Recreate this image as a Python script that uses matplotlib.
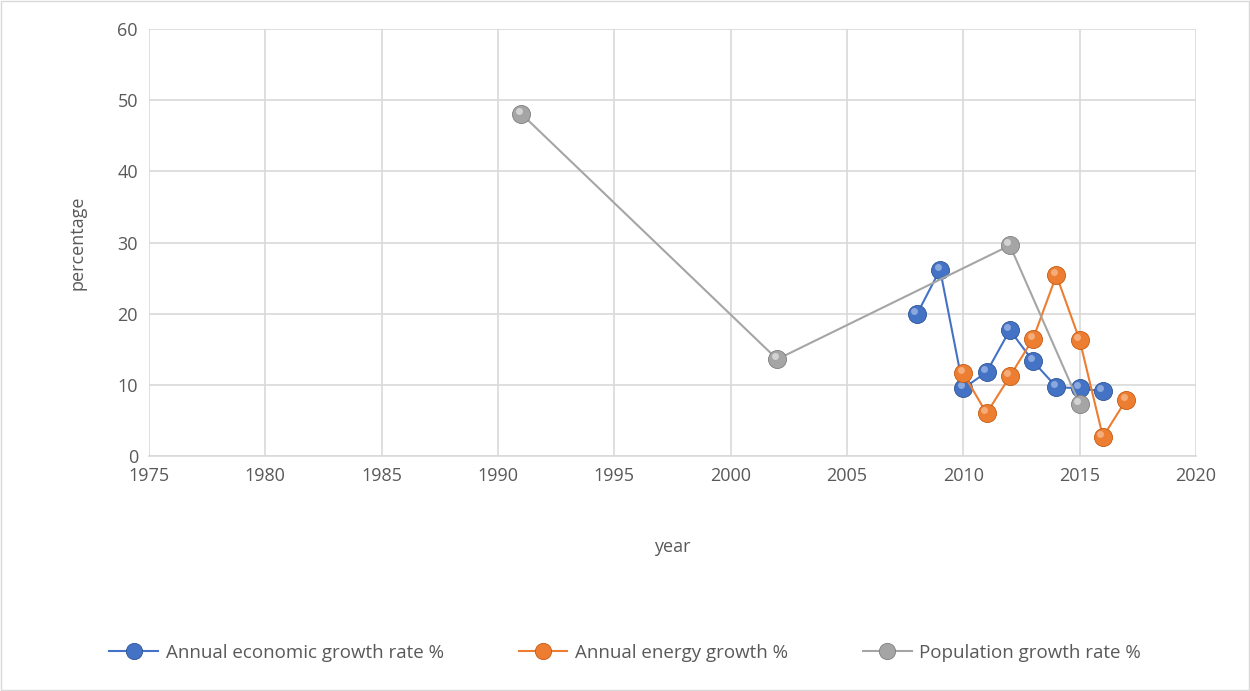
import matplotlib.pyplot as plt
import matplotlib.transforms as mtransforms
import numpy as np

plt.rcParams['font.family'] = ['Open Sans', 'DejaVu Sans']

# data
econ_years = [2008, 2009, 2010, 2011, 2012, 2013, 2014, 2015, 2016]
econ_vals = [19.9, 26.2, 9.5, 11.8, 17.7, 13.3, 9.7, 9.5, 9.1]

energy_years = [2010, 2011, 2012, 2013, 2014, 2015, 2016, 2017]
energy_vals = [11.6, 6.0, 11.2, 16.5, 25.4, 16.3, 2.7, 7.9]

pop_years = [1991, 2002, 2012, 2015]
pop_vals = [48.1, 13.6, 29.6, 7.3]

series = [
    ("Annual economic growth rate %", econ_years, econ_vals, '#4472C4', '#2F5597', '#A9C0EA'),
    ("Annual energy growth %", energy_years, energy_vals, '#ED7D31', '#C55A11', '#F8C29A'),
    ("Population growth rate %", pop_years, pop_vals, '#A5A5A5', '#7F7F7F', '#E6E6E6'),
]

fig = plt.figure(figsize=(12.5, 6.91), dpi=100)
ax = fig.add_axes([0.1192, 0.3400, 0.8376, 0.6180])

txt = '#595959'
for i, (name, xs, ys, c, edge, hi) in enumerate(series):
    ax.plot(xs, ys, color=c, lw=1.5, marker='o', markersize=13,
            markerfacecolor=c, markeredgecolor=edge, markeredgewidth=0.6,
            label=name, zorder=3 + i)
    # small highlight toward the upper left of each ball
    shift = mtransforms.offset_copy(ax.transData, fig=fig, x=-1.8, y=2.2, units='points')
    ax.plot(xs, ys, ls='none', marker='o', markersize=5, transform=shift,
            markerfacecolor=hi, markeredgecolor='none', alpha=0.7, zorder=3 + i)

ax.set_xlim(1975, 2020)
ax.set_ylim(0, 60)
ax.set_xticks(np.arange(1975, 2021, 5))
ax.set_yticks(np.arange(0, 61, 10))
ax.grid(True, color='#D9D9D9', lw=1.2)
ax.set_axisbelow(True)
for s in ['top', 'right', 'left']:
    ax.spines[s].set_visible(False)
ax.spines['bottom'].set_color('#D9D9D9')
ax.spines['bottom'].set_linewidth(1.2)
ax.tick_params(length=0, labelsize=13, colors=txt, pad=8)

ax.set_xlabel('year', fontsize=13, color=txt, labelpad=38)
ax.set_ylabel('percentage', fontsize=13, color=txt, labelpad=22)

handles, labels = ax.get_legend_handles_labels()
fig.legend(handles[:3], labels[:3], loc='center', bbox_to_anchor=(0.5, 0.055),
           ncol=3, frameon=False, fontsize=13.5, labelcolor=txt,
           handlelength=2.6, handletextpad=0.4, columnspacing=4, markerscale=0.9)

fig.patches.append(plt.Rectangle((0.001, 0.001), 0.998, 0.998, transform=fig.transFigure,
                                 fill=False, edgecolor='#D9D9D9', lw=1))

fig.savefig('out.png', dpi=100)
